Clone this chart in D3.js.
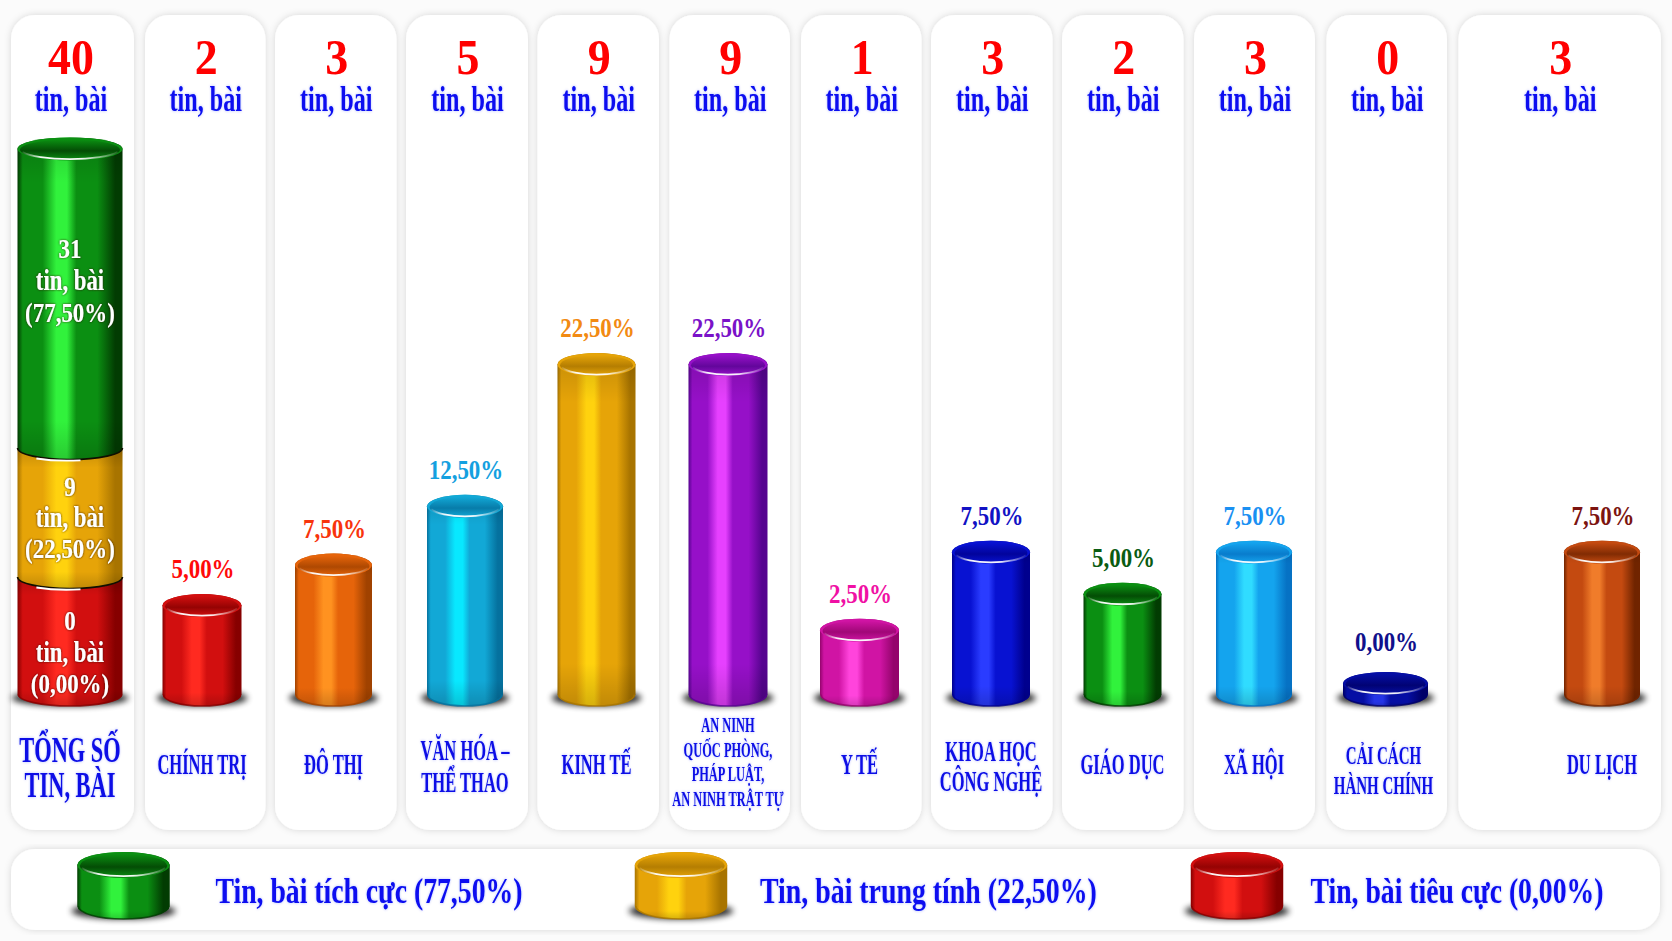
<!DOCTYPE html>
<html lang="vi"><head><meta charset="utf-8">
<style>html,body{margin:0;padding:0;background:#fbfbfb;overflow:hidden}svg{display:block}text{font-family:"Liberation Serif","Times New Roman",serif}</style>
<script src="https://cdnjs.cloudflare.com/ajax/libs/d3/7.8.5/d3.min.js"></script>
</head><body><svg id="c" width="1672" height="941"></svg>
<script>
// ---- data ----
const totalLabel = ["TỔNG SỐ", "TIN, BÀI"];
const totalCount = 40;
const unitLabel = "tin, bài";
const stackCounts = [31, 9, 0];
const stackPercents = [77.5, 22.5, 0];
const stackLevels = [37.7, 15.8, 6.7];        // top of each stacked drum, as drawn
const categories = [
  ["CHÍNH TRỊ"], ["ĐÔ THỊ"], ["VĂN HÓA –", "THỂ THAO"], ["KINH TẾ"],
  ["AN NINH", "QUỐC PHÒNG,", "PHÁP LUẬT,", "AN NINH TRẬT TỰ"], ["Y TẾ"],
  ["KHOA HỌC", "CÔNG NGHỆ"], ["GIÁO DỤC"], ["XÃ HỘI"], ["CẢI CÁCH", "HÀNH CHÍNH"], ["DU LỊCH"]
];
const counts = [2, 3, 5, 9, 9, 1, 3, 2, 3, 0, 3];
const percents = [5, 7.5, 12.5, 22.5, 22.5, 2.5, 7.5, 5, 7.5, 0, 7.5];
const levels = [5.5, 8.35, 12.5, 22.5, 22.5, 3.76, 9.26, 6.3, 9.26, 0, 9.26]; // drum heights as drawn
const legendLabels = ["Tin, bài tích cực (77,50%)", "Tin, bài trung tính (22,50%)", "Tin, bài tiêu cực (0,00%)"];

// ---- styles / layout ----
const P = {
  green:["#023c02","#0b8f12","#31f23c"], amber:["#a87400","#e6a408","#ffd20e"], red:["#860000","#d20f0f","#ff2a20"],
  orange:["#a04200","#e6640a","#ff9220"], cyan:["#05719e","#12a8d6","#08e8ff"], purple:["#560490","#9610c8","#e640ff"],
  pink:["#94046c","#d014a4","#ff44dc"], blue:["#00008e","#0812d2","#2a3cff"], sky:["#0672c4","#14a4ee","#30dcff"],
  navy:["#000068","#050ea4","#2434e6"], brown:["#702400","#c44a10","#f07c2a"]
};
const barPal = [P.red,P.orange,P.cyan,P.amber,P.purple,P.pink,P.blue,P.green,P.sky,P.navy,P.brown];
const pctColors = ["#ff0a0a","#f8340c","#14a0e0","#f28a12","#7a12c8","#f010a4","#1212c4","#0a5c12","#1a90f2","#10108c","#7c1410"];
const stackPal = [P.green,P.amber,P.red];
const cardEdges = [[11,134],[145,265.5],[275,396.5],[406,528],[537.5,659],[669.5,790],[801,921.5],[931,1052.5],[1062,1183.5],[1194,1315],[1326.5,1447],[1458.5,1661]];
const barWidths = [79,77,76,78,79,79,78,78,76,85,76];

const svg = d3.select("#c"), defs = svg.append("defs");
svg.append("rect").attr("width",1672).attr("height",941).attr("fill","#fbfbfb");
const x = d3.scaleLinear().domain([0,10,11]).range([70.5,1385.5,1602]);   // column index -> drum centre
const y = d3.scaleLinear().domain([0,22.5]).range([672,353]);             // drawn level -> drum top
const baseY = 706;
const loc = d3.formatLocale({decimal:",",thousands:".",grouping:[3],currency:["",""]});
const pct = v => loc.format(".2f")(v)+"%";

const f1 = defs.append("filter").attr("id","card").attr("x","-10%").attr("y","-5%").attr("width","120%").attr("height","110%");
f1.append("feDropShadow").attr("dx",0).attr("dy",0).attr("stdDeviation",3.5).attr("flood-color","#000").attr("flood-opacity",.15);
const f2 = defs.append("filter").attr("id","blur").attr("x","-30%").attr("y","-80%").attr("width","160%").attr("height","260%");
f2.append("feGaussianBlur").attr("stdDeviation",3.2);
const f3 = defs.append("filter").attr("id","glow").attr("x","-10%").attr("y","-20%").attr("width","120%").attr("height","140%");
f3.append("feDropShadow").attr("dx",0).attr("dy",0).attr("stdDeviation",1.6).attr("flood-color","#2030ff").attr("flood-opacity",.3);
const f4 = defs.append("filter").attr("id","dark").attr("x","-10%").attr("y","-20%").attr("width","120%").attr("height","140%");
f4.append("feDropShadow").attr("dx",0).attr("dy",0).attr("stdDeviation",1.1).attr("flood-color","#301800").attr("flood-opacity",.95);

let gid = 0;
function grad(stops,vert){
  const id="g"+(++gid), g=defs.append("linearGradient").attr("id",id).attr("x1",0).attr("y1",0).attr("x2",vert?0:1).attr("y2",vert?1:0);
  stops.forEach(s=>g.append("stop").attr("offset",s[0]).attr("stop-color",s[1]).attr("stop-opacity",s[2]===undefined?1:s[2]));
  return `url(#${id})`;
}
function drum(g,cx,w,top,bottom,pal,opt={}){
  const l=cx-w/2,r=cx+w/2,ry=opt.ry||11.5,rx=w/2,[d,m,b]=pal;
  if(opt.shadow!==false)
    g.append("ellipse").attr("cx",cx).attr("cy",bottom-8).attr("rx",w/2+6).attr("ry",8).attr("fill","#000").attr("opacity",.85).attr("filter","url(#blur)");
  const topEdge = opt.cap===false ? `L${r},${top}L${l},${top}` : `L${r},${top+ry}A${rx},${ry} 0 0 0 ${l},${top+ry}`;
  const bodyPath=`M${l},${top+ry}L${l},${bottom-ry}A${rx},${ry} 0 0 0 ${r},${bottom-ry}${topEdge}Z`;
  g.append("path").attr("d",bodyPath).attr("fill",grad([[0,d],[.05,m],[.24,m],[.37,b],[.47,b],[.56,m],[.76,m],[.93,d],[1,d]]));
  g.append("path").attr("d",bodyPath).attr("fill",grad([[0,"#000",.22],[.05,"#000",.1],[.14,"#000",0],[.88,"#000",0],[1,"#000",.16]],true));
  if(opt.shadow!==false)
    g.append("path").attr("d",`M${l+1},${bottom-ry}A${rx-1},${ry} 0 0 0 ${r-1},${bottom-ry}`).attr("fill","none").attr("stroke",d).attr("stroke-width",1.6).attr("opacity",.8);
  if(opt.cap!==false){
    const cy=top+ry, crx=w/2-2.5, cry=ry-1.2;
    g.append("ellipse").attr("cx",cx).attr("cy",cy).attr("rx",rx).attr("ry",ry).attr("fill",m);
    g.append("ellipse").attr("cx",cx).attr("cy",cy+.8).attr("rx",crx).attr("ry",cry)
      .attr("fill",grad([[0,m],[.55,d],[1,m]],true)).attr("opacity",.8);
    const hl=grad([[0,"#fff",.1],[.2,"#fff",.95],[.62,"#fff",.95],[.85,"#fff",.45],[1,"#fff",.1]]);
    g.append("path").attr("d",`M${cx-crx*.95},${cy+3}A${crx},${cry} 0 0 0 ${cx+crx*.95},${cy+3}`)
      .attr("fill","none").attr("stroke",hl).attr("stroke-width",1.8);
  }
}
function joint(g,cx,w,yc,ry){ // lower edge of an upper drum resting on the next one
  const l=cx-w/2,r=cx+w/2;
  g.append("path").attr("d",`M${l},${yc}A${w/2},${ry} 0 0 0 ${r},${yc}`).attr("fill","none").attr("stroke","#101000").attr("stroke-width",1.6);
  g.append("path").attr("d",`M${cx-w*.32},${yc+ry-1}A${w/2},${ry} 0 0 0 ${cx+w*.1},${yc+ry+.8}`).attr("fill","none").attr("stroke","#fff").attr("stroke-width",1.8);
}
function label(g,str,cx,by,size,sx,color,o={}){
  const t=g.append("text").attr("text-anchor",o.start?"start":"middle").attr("font-size",size).attr("font-weight",o.weight||"bold")
    .attr("fill",color).text(str).attr("transform",`translate(${cx},${by}) scale(${sx},1)`);
  if(o.filter) t.attr("filter",`url(#${o.filter})`);
  if(o.width){const L=t.node().getComputedTextLength();t.attr("transform",`translate(${cx},${by}) scale(${o.width/L},1)`);}
  return t;
}

// cards
const cards=svg.append("g");
cardEdges.forEach(e=>cards.append("rect").attr("x",e[0]).attr("y",15).attr("width",e[1]-e[0]).attr("height",815).attr("rx",24).attr("fill","#fff").attr("filter","url(#card)"));
cards.append("rect").attr("x",11).attr("y",849).attr("width",1649).attr("height",81).attr("rx",24).attr("fill","#fff").attr("filter","url(#card)");

// header counts
const cardMid=e=>(e[0]+e[1])/2;
const head=svg.append("g");
[totalCount,...counts].forEach((c,i)=>{
  const cx=cardMid(cardEdges[i]);
  label(head,String(c),cx+(i?1:-1.5),74,51,.9,"#ff0000");
  label(head,unitLabel,cx+(i?.5:-1.5),111,35,.69,"#0808f0",{filter:"glow"});
});

// total stack (lowest drawn first, upper drums sit over the lower ones)
const st=svg.append("g"), W0=105, cx0=x(0)-.5;
const tops=stackLevels.map(v=>y(v));
drum(st,cx0,W0,tops[2],baseY,stackPal[2],{cap:false});
drum(st,cx0,W0,tops[1],tops[2]+11.5,stackPal[1],{cap:false,shadow:false});
joint(st,cx0,W0,tops[2],11.5);
drum(st,cx0,W0,tops[0],tops[1]+11.5,stackPal[0],{shadow:false});
joint(st,cx0,W0,tops[1],11.5);
const stackBase=[258,495.5,630], white="#fff";
stackCounts.forEach((c,i)=>{
  const b=stackBase[i], step=[32,31,31.5][i];
  label(st,String(c),cx0,b,28,.82,white,{filter:"dark"});
  label(st,unitLabel,cx0,b+step,30,.76,white,{filter:"dark"});
  label(st,`(${pct(stackPercents[i])})`,cx0,b+2*step,28,.82,white,{filter:"dark"});
});
const tl=svg.append("g");
label(tl,totalLabel[0],cx0,762,35,.64,"#0a0ae6",{filter:"glow"});
label(tl,totalLabel[1],cx0,797,35,.64,"#0a0ae6",{filter:"glow"});

// category drums
const bars=svg.append("g").selectAll("g").data(counts).join("g");
bars.each(function(_,i){
  const g=d3.select(this), cx=x(i+1), top=y(levels[i]);
  drum(g,cx,barWidths[i],top,baseY,barPal[i]);
  label(g,pct(percents[i]),cx+1,top-(levels[i]===0?21:16),28,.82,pctColors[i]);
  const lines=categories[i];
  const n=lines.length;
  const size=n===4?21:n===2&&i===9?25:29;
  const sx=n===4?.59:n===2&&i===9?.6:.57;
  const gap=n===4?24.7:n===2&&i===9?30:i===2?32:30;
  const mid=n===4?769:i===9?778.5:n===2?775.5:774;
  lines.forEach((s,j)=>label(g,s,cx-(i===9?2:0),mid+(j-(n-1)/2)*gap,size,sx,"#0a0ae6",{filter:"glow"}));
});

// legend
const lg=svg.append("g");
[123.5,681,1237].forEach((cx,i)=>{
  drum(lg,cx,92.5,852,919,stackPal[i],{ry:13});
});
const legX=[215.5,760,1310.5], legW=[307,337,293];
legendLabels.forEach((s,i)=>label(lg,s,legX[i],902.5,36,1,"#0808f0",{start:true,width:legW[i],filter:"glow"}));
</script></body></html>
